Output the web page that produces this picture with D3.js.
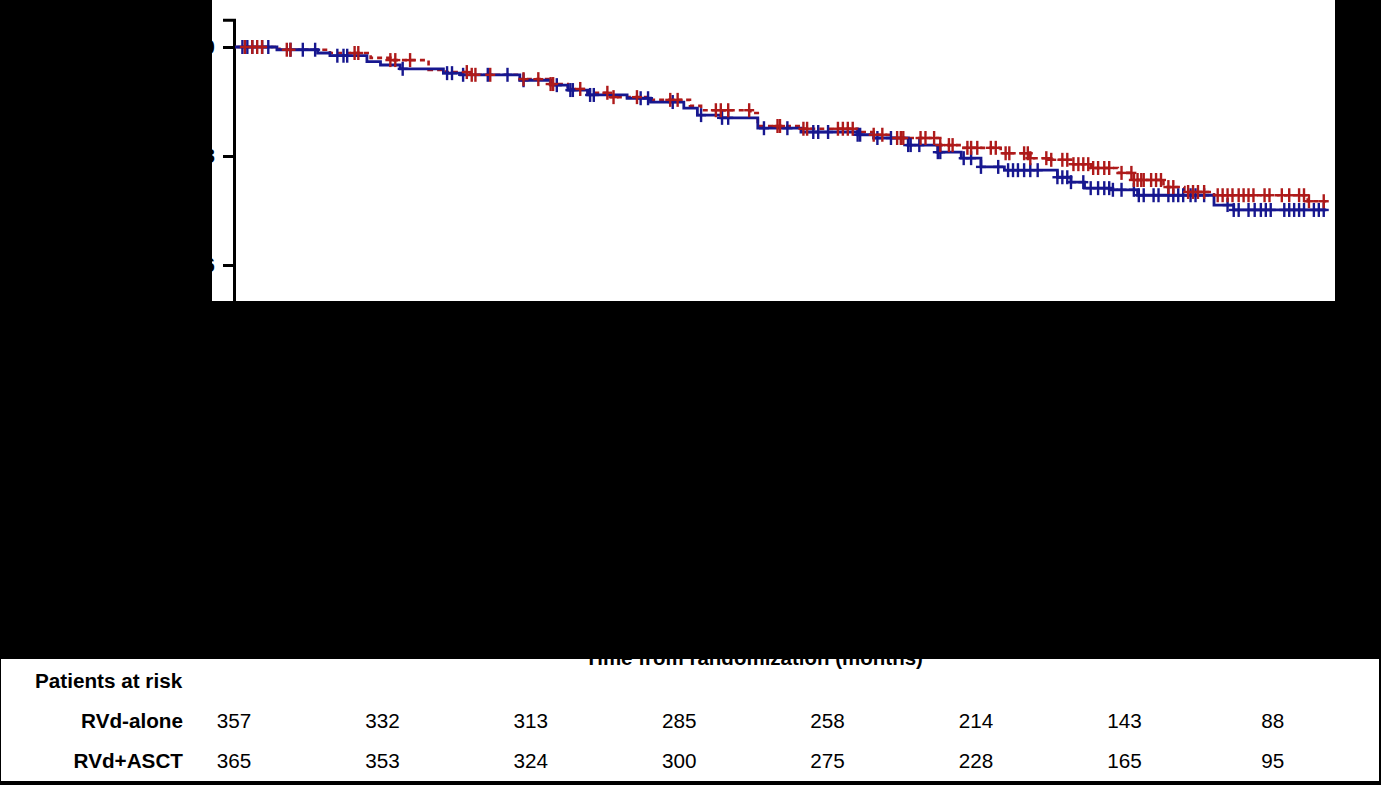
<!DOCTYPE html>
<html>
<head>
<meta charset="utf-8">
<script src="https://cdn.jsdelivr.net/npm/d3@7"></script>
<style>
  html, body { margin: 0; padding: 0; background: #000; }
  svg { display: block; }
  text { font-family: Arial, "Liberation Sans", sans-serif; }
</style>
</head>
<body>
<svg id="chart" width="1381" height="785"></svg>
<script>
// ---------------- data ----------------
const seriesNames = ["RVd-alone", "RVd+ASCT"];
const riskMonths = [0, 12, 24, 36, 48, 60, 72, 84];
const atRiskAlone = [357, 332, 313, 285, 258, 214, 143, 88];
const atRiskASCT = [365, 353, 324, 300, 275, 228, 165, 95];
const yTicks = [0.6, 0.8, 1.0];

// Kaplan-Meier steps (month, survival) for RVd-alone
const aloneTimes = [0, 3.4, 6.7, 7.7, 10.7, 11.8, 13.4, 16.9, 18.3, 23.1, 25.6, 27.0, 28.6, 31.8, 33.7, 36.4, 37.5, 39.4, 42.4, 45.9, 50.5, 51.8, 54.6, 57.0, 58.9, 60.5, 62.4, 66.7, 67.8, 68.9, 71.0, 73.2, 79.4, 81.0, 88.5];
const aloneSurv  = [1.0, 0.995, 0.989, 0.984, 0.973, 0.967, 0.960, 0.952, 0.949, 0.939, 0.930, 0.921, 0.912, 0.906, 0.899, 0.888, 0.875, 0.870, 0.851, 0.844, 0.839, 0.833, 0.820, 0.807, 0.796, 0.780, 0.774, 0.761, 0.752, 0.741, 0.738, 0.728, 0.710, 0.701, 0.701];
const aloneCensor = [0.6, 1.0, 1.4, 2.2, 2.7, 4.5, 5.5, 6.5, 8.3, 8.8, 9.1, 13.6, 17.2, 17.6, 18.5, 20.5, 22.1, 23.4, 26.1, 27.2, 27.4, 28.8, 29.1, 32.9, 33.5, 35.5, 37.8, 39.5, 40.0, 42.9, 44.8, 46.9, 47.3, 48.1, 50.5, 50.7, 52.1, 53.2, 54.6, 54.8, 55.5, 57.0, 57.2, 59.1, 59.7, 60.5, 61.9, 62.7, 63.1, 63.5, 64.0, 64.5, 65.1, 66.7, 67.1, 67.5, 67.8, 68.8, 69.4, 70.0, 70.5, 70.9, 71.2, 71.9, 72.9, 73.3, 73.7, 74.5, 74.9, 75.7, 76.1, 76.5, 76.9, 77.5, 77.9, 78.6, 80.5, 81.0, 81.4, 82.2, 82.7, 83.2, 83.6, 84.0, 85.1, 85.5, 85.9, 86.3, 86.7, 87.5, 87.9, 88.3];

// Kaplan-Meier steps (month, survival) for RVd+ASCT
const asctTimes = [0, 3.6, 7.7, 11.0, 12.6, 15.7, 17.1, 19.1, 23.1, 25.6, 27.0, 28.6, 30.5, 33.7, 36.9, 37.8, 41.8, 42.4, 45.9, 50.5, 51.8, 53.2, 57.2, 58.9, 62.1, 64.5, 66.2, 67.8, 69.4, 71.6, 72.9, 75.3, 77.0, 79.4, 87.0, 88.5];
const asctSurv  = [1.0, 0.995, 0.989, 0.980, 0.976, 0.958, 0.954, 0.949, 0.941, 0.932, 0.923, 0.916, 0.908, 0.903, 0.892, 0.884, 0.879, 0.855, 0.850, 0.844, 0.839, 0.833, 0.820, 0.815, 0.805, 0.796, 0.793, 0.785, 0.778, 0.769, 0.756, 0.743, 0.734, 0.728, 0.717, 0.717];
const asctCensor = [0.8, 1.4, 1.8, 2.2, 4.2, 4.5, 9.7, 10.0, 12.6, 13.0, 14.2, 18.8, 19.2, 19.5, 20.7, 23.4, 24.6, 25.6, 25.8, 28.0, 30.2, 30.7, 32.6, 35.3, 35.9, 39.0, 39.4, 40.0, 41.7, 44.0, 44.2, 46.1, 46.4, 48.9, 49.3, 49.7, 50.1, 51.8, 52.5, 53.7, 54.0, 54.2, 55.6, 56.0, 56.7, 57.2, 57.9, 58.2, 59.4, 59.7, 60.2, 61.3, 61.7, 62.5, 62.8, 64.0, 64.3, 64.5, 65.8, 66.2, 67.1, 67.5, 68.0, 68.4, 68.8, 69.2, 69.6, 70.0, 70.5, 70.9, 71.9, 72.7, 72.9, 73.2, 73.5, 73.7, 74.3, 74.7, 75.1, 75.7, 76.1, 77.3, 77.7, 78.1, 78.6, 79.7, 80.1, 80.5, 80.9, 81.4, 81.8, 82.2, 82.6, 83.5, 83.9, 84.9, 85.5, 86.3, 86.7, 87.1, 88.3];

const xTitle = "Time from randomization (months)";
const riskTitle = "Patients at risk";

// ---------------- drawing ----------------
const svg = d3.select("#chart");
const W = 1381, H = 785;
svg.append("rect").attr("width", W).attr("height", H).attr("fill", "#000");

const x = d3.scaleLinear().domain([0, 90]).range([235, 235 + 90 * 12.33]);
const y = d3.scaleLinear().domain([0, 1.05]).range([592, 19.75]);
// column positions of the at-risk table
const xTable = d3.scaleLinear().domain([0, 84]).range([234, 1272.8]);

// plot panel (visible window)
const panel = { x: 212, y: 0, w: 1123, h: 301 };
svg.append("clipPath").attr("id", "clipPlot")
  .append("rect").attr("x", panel.x).attr("y", panel.y).attr("width", panel.w).attr("height", panel.h);
const plot = svg.append("g").attr("clip-path", "url(#clipPlot)");
plot.append("rect").attr("x", panel.x).attr("y", panel.y).attr("width", panel.w).attr("height", panel.h).attr("fill", "#fff");

// y axis
const yAxis = d3.axisLeft(y).tickValues(yTicks).tickFormat(d3.format(".1f")).tickSize(11).tickPadding(8);
const gy = plot.append("g").attr("transform", `translate(${x(0) - 1},0)`).call(yAxis);
gy.select(".domain").attr("stroke", "#000").attr("stroke-width", 3);
gy.selectAll(".tick line").attr("stroke", "#000").attr("stroke-width", 3);
gy.selectAll(".tick text").attr("fill", "#000").style("font-size", "20px").style("font-weight", "bold");

// x axis (hidden by overlay in reference, drawn for completeness)
const xAxis = d3.axisBottom(x).tickValues(riskMonths).tickSize(10);
const gx = plot.append("g").attr("transform", `translate(0,${y(0)})`).call(xAxis);
gx.selectAll("path,line").attr("stroke", "#000").attr("stroke-width", 3);

function stepValue(times, surv, t) {
  let v = surv[0];
  for (let i = 0; i < times.length; i++) { if (times[i] <= t) v = surv[i]; else break; }
  return v;
}

const series = [
  { name: seriesNames[0], times: aloneTimes, surv: aloneSurv, censor: aloneCensor, color: "#17178f", dash: null, width: 2.8 },
  { name: seriesNames[1], times: asctTimes, surv: asctSurv, censor: asctCensor, color: "#ae1a1a", dash: "5,4", width: 2.6 }
];

const line = d3.line().x(d => x(d[0])).y(d => y(d[1])).curve(d3.curveStepAfter);

[series[1], series[0]].forEach(s => {
  const pts = s.times.map((t, i) => [t, s.surv[i]]);
  plot.append("path").datum(pts)
    .attr("d", line)
    .attr("fill", "none")
    .attr("stroke", s.color)
    .attr("stroke-width", s.width)
    .attr("stroke-dasharray", s.dash);
});

[series[0], series[1]].forEach(s => {
  const g = plot.append("g");
  s.censor.forEach(t => {
    const cx = x(t), cy = y(stepValue(s.times, s.surv, t));
    g.append("line").attr("x1", cx).attr("x2", cx).attr("y1", cy - 7).attr("y2", cy + 7)
      .attr("stroke", s.color).attr("stroke-width", 2.4);
    g.append("line").attr("x1", cx - 5).attr("x2", cx + 5).attr("y1", cy).attr("y2", cy)
      .attr("stroke", s.color).attr("stroke-width", 2.4);
  });
});

// bottom table panel
const tbl = { x: 1, y: 659, w: 1378, h: 122 };
svg.append("rect").attr("x", tbl.x).attr("y", tbl.y).attr("width", tbl.w).attr("height", tbl.h).attr("fill", "#fff");

svg.append("clipPath").attr("id", "clipTbl")
  .append("rect").attr("x", tbl.x).attr("y", tbl.y).attr("width", tbl.w).attr("height", tbl.h);
const tg = svg.append("g").attr("clip-path", "url(#clipTbl)");

tg.append("text").attr("x", 754).attr("y", 665)
  .attr("text-anchor", "middle").style("font-size", "20.5px").style("font-weight", "bold")
  .attr("fill", "#000").text(xTitle);

tg.append("text").attr("x", 35).attr("y", 688)
  .style("font-size", "20.7px").style("font-weight", "bold").attr("fill", "#000").text(riskTitle);

const rows = [
  { label: seriesNames[0], vals: atRiskAlone, yb: 728 },
  { label: seriesNames[1], vals: atRiskASCT, yb: 768 }
];
rows.forEach(r => {
  tg.append("text").attr("x", 183).attr("y", r.yb).attr("text-anchor", "end")
    .style("font-size", "20.7px").style("font-weight", "bold").attr("fill", "#000").text(r.label);
  tg.selectAll(null).data(r.vals).enter().append("text")
    .attr("x", (d, i) => xTable(riskMonths[i]))
    .attr("y", r.yb)
    .attr("text-anchor", "middle")
    .style("font-size", "20.7px")
    .attr("fill", "#000")
    .text(d => d);
});
</script>
</body>
</html>
